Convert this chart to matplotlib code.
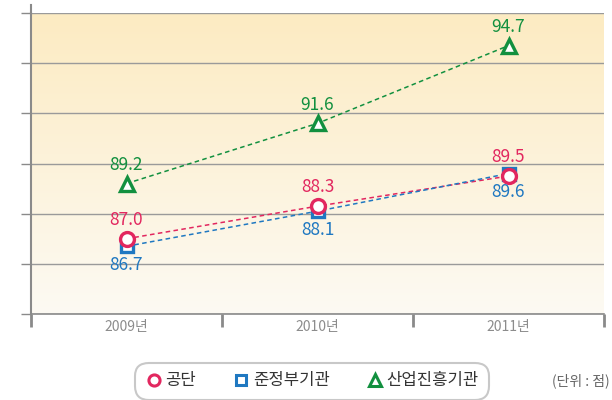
import numpy as np
import matplotlib
matplotlib.use("Agg")
import matplotlib.pyplot as plt
from matplotlib.lines import Line2D

plt.rcParams['font.family'] = ['Noto Sans CJK KR', 'DejaVu Sans']

years = ["2009년", "2010년", "2011년"]
series_names = ["공단", "준정부기관", "산업진흥기관"]
gongdan = [87.0, 88.3, 89.5]
junjeongbu = [86.7, 88.1, 89.6]
saneop = [89.2, 91.6, 94.7]
y_ticks = [84, 86, 88, 90, 92, 94, 96]

colors = ["#E2275F", "#1F78C1", "#12903F"]
markers = ["o", "s", "^"]
label_side = [1, -1, 1]   # value label above (+1) or below (-1)
zorders = [5, 4, 4]       # red circles sit on top of the blue squares

fig = plt.figure(figsize=(6.12, 4.0), dpi=100)
ax = fig.add_axes([31 / 612, 1 - 314 / 400, 573 / 612, 301 / 400])

# background gradient
grad = np.linspace(0, 1, 256).reshape(-1, 1)
top = np.array([252, 235, 194]) / 255
bot = np.array([253, 250, 243]) / 255
img = top * (1 - grad)[..., None] + bot * grad[..., None]
img = img.reshape(256, 1, 3)
ax.imshow(img, extent=[0, 1, 0, 1], transform=ax.transAxes, aspect="auto", zorder=0)

x = np.arange(len(years))
for vals, c, m, side, z in zip([gongdan, junjeongbu, saneop], colors, markers, label_side, zorders):
    ax.plot(x, vals, ls=(0, (3, 2.2)), lw=1.1, color=c, zorder=3)
    ax.plot(x, vals, ls="none", marker=m, ms=10 if m != "s" else 9, mfc="white",
            mec=c, mew=2.4, zorder=z)
    for xi, v in zip(x, vals):
        ax.annotate(f"{v:.1f}", (xi, v), xytext=(0, 7 * side), textcoords="offset points",
                    ha="center", va="bottom" if side > 0 else "top", fontsize=12.5,
                    color=c, zorder=6)

ax.set_xlim(-0.5, 2.5)
ax.set_ylim(y_ticks[0], y_ticks[-1])
ax.set_yticks(y_ticks)
ax.set_yticklabels([])
ax.yaxis.grid(True, color="#9A9A9A", lw=1.0)
ax.set_axisbelow(True)
for gl in ax.get_ygridlines():
    gl.set_zorder(1)
ax.tick_params(axis="y", length=7, width=1.0, color="#8A8A8A")

ax.set_xticks(x)
ax.set_xticklabels(years, color="#8C8C8C", fontsize=10)
ax.tick_params(axis="x", length=0, pad=4)
ax.set_xticks([-0.5, 0.5, 1.5, 2.5], minor=True)
ax.tick_params(axis="x", which="minor", length=9, width=2.0, color="#8A8A8A")

for s in ["top", "right"]:
    ax.spines[s].set_visible(False)
ax.spines["left"].set_color("#8A8A8A")
ax.spines["bottom"].set_color("#8A8A8A")
ax.spines["left"].set_linewidth(1.5)
ax.spines["bottom"].set_linewidth(1.2)
ax.spines["left"].set_bounds(y_ticks[0], y_ticks[-1])
# left spine extends a bit above the plot
ax.plot([-0.5, -0.5], [y_ticks[-1], y_ticks[-1] + 0.3], color="#8A8A8A", lw=1.5,
        clip_on=False, zorder=6)

handles = [Line2D([], [], ls="none", marker=m, ms=8 if m != "s" else 7, mfc="white",
                  mec=c, mew=2.2) for m, c in zip(markers, colors)]
leg = fig.legend(handles, series_names, loc="center", bbox_to_anchor=(312 / 612, 1 - 381 / 400),
                 ncol=3, frameon=True, fontsize=12, handletextpad=0.2, columnspacing=2.2,
                 borderpad=0.3, handlelength=1.0, labelcolor="#333333")
frame = leg.get_frame()
frame.set_edgecolor("#BBBBBB")
frame.set_linewidth(1.5)
frame.set_boxstyle("round,pad=0.3,rounding_size=0.8")

fig.text(581 / 612, 1 - 381 / 400, "(단위 : 점)", ha="center", va="center",
         fontsize=10, color="#666666")

fig.savefig("out.png", dpi=100)
